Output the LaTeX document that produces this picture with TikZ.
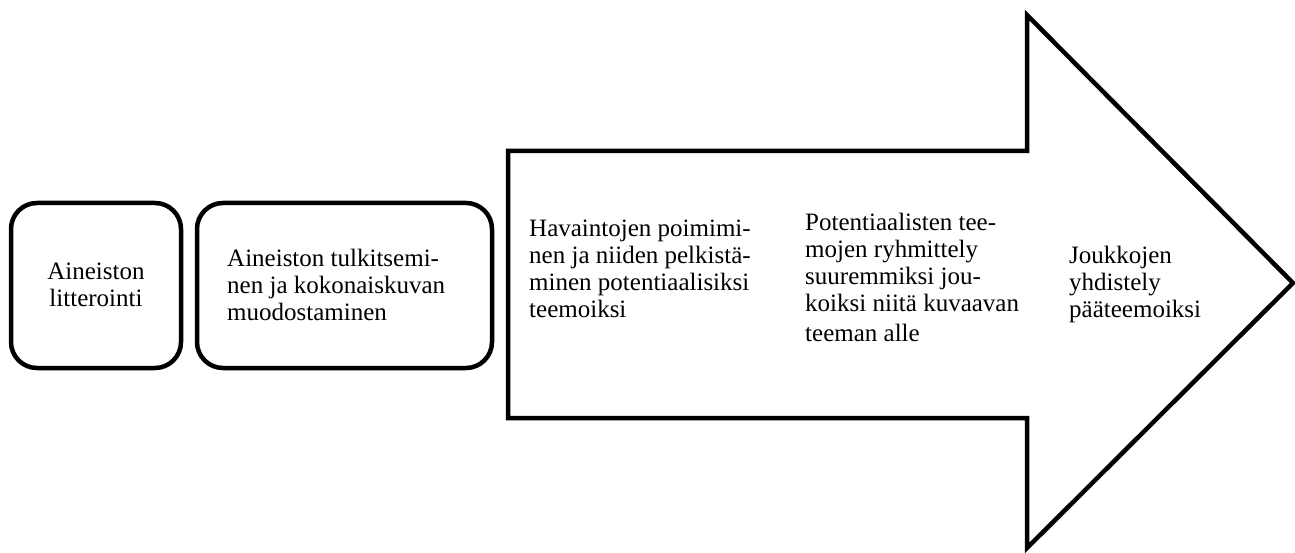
\documentclass[tikz,border=0pt]{standalone}
\usepackage{fontspec}
\setmainfont{Liberation Serif}
\begin{document}
\begin{tikzpicture}[x=1pt,y=-1pt,
  outline/.style={draw=black, line width=4.5pt},
  roundbox/.style={outline, rounded corners=26pt, inner sep=0pt},
  lbl/.style={font=\fontsize{25}{27}\selectfont, align=left, inner sep=0pt}]
\useasboundingbox (0,0) rectangle (1295,553);
% rounded boxes
\node[roundbox, minimum width=170pt, minimum height=165pt] (b1) at (96,285.5) {};
\node[roundbox, minimum width=295pt, minimum height=165pt] (b2) at (344.5,285.5) {};
% big arrow
\coordinate (p1) at (508,151);
\coordinate (p2) at (1027,151);
\coordinate (p3) at (1027,15);
\coordinate (tip) at (1293,283);
\coordinate (p5) at (1027,548);
\coordinate (p6) at (1027,418);
\coordinate (p7) at (508,418);
\draw[outline, line join=miter] (p1) -- (p2) -- (p3) -- (tip) -- (p5) -- (p6) -- (p7) -- cycle;
% texts
\node[lbl, align=center] (t1) at (96,285) {Aineiston\\litterointi};
\node[lbl, anchor=west] (t2) at (227,285) {Aineiston tulkitsemi-\\nen ja kokonaiskuvan\\muodostaminen};
\node[lbl, anchor=west] (a1) at (529,269) {Havaintojen poimimi-\\nen ja niiden pelkistä-\\minen potentiaalisiksi\\teemoiksi};
\node[lbl, anchor=west] (a2) at (805,277) {Potentiaalisten tee-\\mojen ryhmittely\\suuremmiksi jou-\\koiksi niitä kuvaavan\\[3pt]teeman alle};
\node[lbl, anchor=west] (a3) at (1069,284) {Joukkojen\\yhdistely\\pääteemoiksi};
\end{tikzpicture}
\end{document}
